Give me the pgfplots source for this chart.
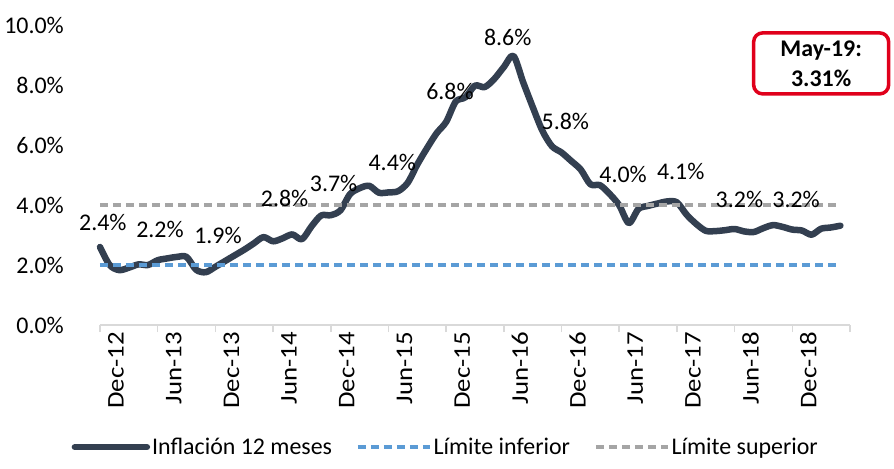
\documentclass[border=0pt]{standalone}
\usepackage{fontspec}
\setmainfont{Carlito}
\newfontfamily\widefont[FakeStretch=1.12]{Carlito}
\usepackage{pgfplots}
\pgfplotsset{compat=1.18}
\definecolor{navy}{RGB}{51,63,80}
\definecolor{limblue}{RGB}{91,155,213}
\definecolor{limgray}{RGB}{165,165,165}
\definecolor{axisgray}{RGB}{217,217,217}
\definecolor{boxred}{RGB}{224,0,27}
\begin{document}
\begin{tikzpicture}
\useasboundingbox (-100bp,-144bp) rectangle (794bp,325bp);
\begin{axis}[
  at={(0,0)}, anchor=south west,
  scale only axis, width=750bp, height=300bp,
  xmin=0, xmax=78, ymin=0, ymax=10,
  clip=false,
  font=\fontsize{24}{28}\selectfont,
  tick label style={font=\fontsize{24}{28}\selectfont},
  axis x line*=bottom, axis y line*=left,
  x axis line style={-, draw=axisgray, line width=1.5bp},
  y axis line style={draw=none},
  xtick={0,6,...,78},
  xticklabels={Dec-12,Jun-13,Dec-13,Jun-14,Dec-14,Jun-15,Dec-15,Jun-16,Dec-16,Jun-17,Dec-17,Jun-18,Dec-18,},
  ytick={0,2,...,10},
  yticklabels={0.0\%,2.0\%,4.0\%,6.0\%,8.0\%,10.0\%},
  xtick style={draw=axisgray, line width=1.5bp},
  ytick style={draw=none},
  tick align=outside, major tick length=7bp,
  xticklabel style={rotate=90, anchor=east, inner sep=0pt, yshift=-16bp, font=\widefont\fontsize{24}{28}\selectfont},
  yticklabel style={anchor=east, inner sep=0pt, xshift=-29bp},
  legend style={at={(0.461,-0.407)}, anchor=center, draw=none, fill=none,
    legend columns=3, cells={anchor=west},
    /tikz/every odd column/.append style={column sep=0bp},
    /tikz/every even column/.append style={column sep=22bp},
    font=\fontsize{24}{28}\selectfont},
  legend image code/.code={\draw[#1] (0bp,0bp) -- (72bp,0bp);},
]
\addplot[navy, line width=6.5bp, smooth, tension=0.5, line cap=round, line join=round] coordinates {
(0,2.60) (1,2.00) (2,1.83) (3,1.91) (4,2.02) (5,2.00) (6,2.16) (7,2.22) (8,2.27) (9,2.27)
(10,1.84) (11,1.76) (12,1.94) (13,2.13) (14,2.32) (15,2.51) (16,2.72) (17,2.93) (18,2.79) (19,2.89)
(20,3.02) (21,2.86) (22,3.29) (23,3.65) (24,3.66) (25,3.82) (26,4.36) (27,4.56) (28,4.64) (29,4.41)
(30,4.42) (31,4.46) (32,4.74) (33,5.35) (34,5.89) (35,6.39) (36,6.77) (37,7.45) (38,7.59) (39,7.98)
(40,7.93) (41,8.20) (42,8.60) (43,8.97) (44,8.10) (45,7.27) (46,6.48) (47,5.96) (48,5.75) (49,5.47)
(50,5.18) (51,4.69) (52,4.66) (53,4.37) (54,3.99) (55,3.40) (56,3.87) (57,3.97) (58,4.05) (59,4.12)
(60,4.09) (61,3.68) (62,3.37) (63,3.14) (64,3.13) (65,3.16) (66,3.20) (67,3.12) (68,3.10) (69,3.23)
(70,3.33) (71,3.27) (72,3.18) (73,3.15) (74,3.01) (75,3.21) (76,3.25) (77,3.31)
};
\addlegendentry{Inflación 12 meses}
\addplot[limblue, line width=3.5bp, dash pattern=on 8bp off 5bp] coordinates {(0,2) (77,2)};
\addlegendentry{Límite inferior}
\addplot[limgray, line width=3.5bp, dash pattern=on 8bp off 5bp] coordinates {(0,4) (77,4)};
\addlegendentry{Límite superior}
\node at (axis cs:0.3,3.43) {2.4\%};
\node at (axis cs:6.24,3.17) {2.2\%};
\node at (axis cs:12.27,2.97) {1.9\%};
\node at (axis cs:19.2,4.23) {2.8\%};
\node at (axis cs:24.3,4.73) {3.7\%};
\node at (axis cs:30.4,5.43) {4.4\%};
\node at (axis cs:36.4,7.77) {6.8\%};
\node at (axis cs:42.4,9.6) {8.6\%};
\node at (axis cs:48.4,6.77) {5.8\%};
\node at (axis cs:54.4,5.03) {4.0\%};
\node at (axis cs:60.4,5.13) {4.1\%};
\node at (axis cs:66.5,4.17) {3.2\%};
\node at (axis cs:72.4,4.17) {3.2\%};
\node[draw=boxred, line width=3.5bp, rounded corners=9bp, minimum width=135bp, minimum height=61bp,
  align=center, font=\fontsize{24}{30}\selectfont\bfseries, inner sep=2bp]
  at (axis cs:75.0,8.72) {May-19:\\3.31\%};
\end{axis}
\end{tikzpicture}
\end{document}
